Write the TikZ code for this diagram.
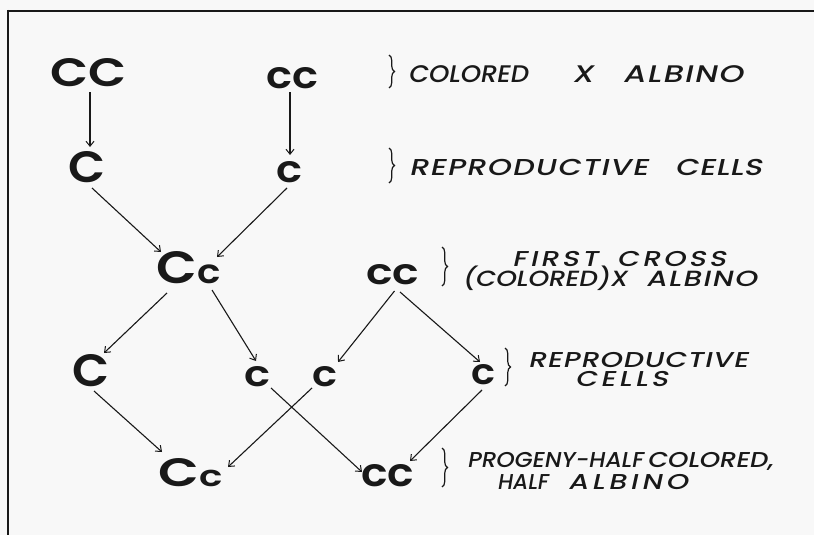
\documentclass[tikz,border=0pt]{standalone}
\usepackage{fontspec}
\usepackage{graphicx}
\usetikzlibrary{arrows.meta,calc,decorations.pathreplacing}
\IfFontExistsTF{Poppins SemiBold}
  {\newfontfamily\geo{Poppins SemiBold}}
  {\newfontfamily\geo{Poppins}[FakeBold=2]}
\IfFontExistsTF{Poppins Medium}
  {\newfontfamily\lblfont{Poppins Medium}[FakeSlant=0.22,FakeStretch=1.32]}
  {\newfontfamily\lblfont{Poppins}[FakeSlant=0.22,FakeStretch=1.32,FakeBold=1.5]}
\definecolor{paper}{RGB}{248,248,248}
\definecolor{ink}{RGB}{25,25,25}
% big genotype letters, stretched to a given width and height
\newcommand{\gene}[3]{\resizebox{#1pt}{#2pt}{\geo #3}}
% one lettered word set to a given width: letters spread evenly,
% or squeezed when the word is naturally wider
\makeatletter
\newsavebox\lw@box
\newcommand{\lword}[3]{%
  \sbox\lw@box{\lblfont\fontsize{#2}{#2}\selectfont\lw@first#3\relax}%
  \ifdim\wd\lw@box>#1pt
    \resizebox{#1pt}{\height}{\usebox\lw@box}%
  \else
    \makebox[#1pt][s]{\lblfont\fontsize{#2}{#2}\selectfont\lw@first#3\relax}%
  \fi}
\def\lw@first#1{#1\lw@next}
\def\lw@next#1{\ifx\relax#1\else\hfil#1\expandafter\lw@next\fi}
\makeatother
\newcommand{\Cc}{{\fontsize{45}{45}\selectfont C}{\fontsize{33}{33}\selectfont c}}
\begin{document}
\begin{tikzpicture}[x=1pt,y=-1pt,
  letters/.style={inner sep=0pt,outer sep=0pt,anchor=center,text=ink},
  label/.style={inner sep=0pt,outer sep=0pt,anchor=base west,text=ink},
  arr/.style={draw=ink,line width=1.1pt,-{Straight Barb[length=5pt,width=8pt,line width=1pt]}},
  brc/.style={draw=ink,line width=1.2pt,decorate,decoration={brace,amplitude=5.5pt}}]
\useasboundingbox (0,0) rectangle (814,535);
\fill[paper] (0,0) rectangle (814,535);
% frame edges
\draw[ink,line width=2pt] (814,11) -- (8,11);
\draw[ink,line width=2.6pt] (8,10) -- (8,535);

% genotypes
\node[letters] (P1) at (88.5,73)  {\gene{76}{28}{CC}};
\node[letters] (P2) at (292,78.5) {\gene{52}{21}{cc}};
\node[letters] (G1) at (87.5,167.5) {\gene{37}{31}{C}};
\node[letters] (G2) at (289.5,172.5) {\gene{26}{21}{c}};
\node[letters] (F1) at (189,268) {\gene{64}{32}{\Cc}};
\node[letters] (F2) at (392.5,275) {\gene{53}{20}{cc}};
\node[letters] (R1) at (90.5,371) {\gene{37}{32}{C}};
\node[letters] (R2) at (257.5,377) {\gene{26}{20}{c}};
\node[letters] (R3) at (325,377) {\gene{25}{20}{c}};
\node[letters] (R4) at (483.5,375) {\gene{24}{20}{c}};
\node[letters] (O1) at (191,473) {\gene{64}{28}{\Cc}};
\node[letters] (O2) at (387.5,476) {\gene{53}{22}{cc}};

% descent arrows
\draw[arr] ($(P1)+(1.5,19)$) -- ($(G1)+(2.5,-20.5)$);
\draw[arr] ($(P2)+(-2,13.5)$) -- ($(G2)+(0.5,-17.5)$);
\draw[arr] ($(G1)+(4.5,20.5)$) -- ($(F1)+(-28,-16)$);
\draw[arr] ($(G2)+(-2.5,15.5)$) -- ($(F1)+(28,-11)$);
\draw[arr] ($(F1)+(-22,25)$) -- ($(R1)+(13.5,-18)$);
\draw[arr] ($(F1)+(23,22)$) -- ($(R2)+(-1.5,-16)$);
\draw[arr] ($(F2)+(2,16)$) -- ($(R3)+(13,-15)$);
\draw[arr] ($(F2)+(7.5,17)$) -- ($(R4)+(-3.5,-13)$);
\draw[arr] ($(R1)+(3.5,20)$) -- ($(O1)+(-29,-21)$);
\draw[arr] ($(R2)+(13.5,11)$) -- ($(O2)+(-25.5,-4)$);
\draw[arr] ($(R3)+(-13,11)$) -- ($(O1)+(37,-6)$);
\draw[arr] ($(R4)+(-1.5,15)$) -- ($(O2)+(22.5,-15)$);

% braces
\draw[brc] (389,55) -- (389,88);
\draw[brc] (389,148) -- (389,183);
\draw[brc] (442,247) -- (442,286);
\draw[brc] (505,348) -- (505,386);
\draw[brc] (442,448) -- (442,487);

% labels
\node[label] (L1) at (408,82) {\lword{120}{24}{COLORED}\hspace{44pt}\lword{21}{24}{X}\hspace{30pt}\lword{120}{24}{ALBINO}};
\node[label] (L2) at (409,175) {\lword{239}{23}{REPRODUCTIVE}\hspace{27pt}\lword{87}{23}{CELLS}};
\node[label] (L3a) at (512,266) {\lword{86}{21.5}{FIRST}\hspace{19pt}\lword{109}{21.5}{CROSS}};
\node[label] (L3b) at (462,286) {\lword{165}{22}{(COLORED)X}\hspace{19pt}\lword{111}{22}{ALBINO}};
\node[label] (L4a) at (528,367) {\lword{220}{21.5}{REPRODUCTIVE}};
\node[label] (L4b) at (575,386) {\lword{93}{21.5}{CELLS}};
\node[label] (L5a) at (467,467.5) {\lword{176}{21.5}{PROGENY-HALF}\hspace{4pt}\lword{126}{21.5}{COLORED,}};
\node[label] (L5b) at (497,489) {\lword{51}{21.5}{HALF}\hspace{20pt}\lword{120}{21.5}{ALBINO}};
\end{tikzpicture}
\end{document}
